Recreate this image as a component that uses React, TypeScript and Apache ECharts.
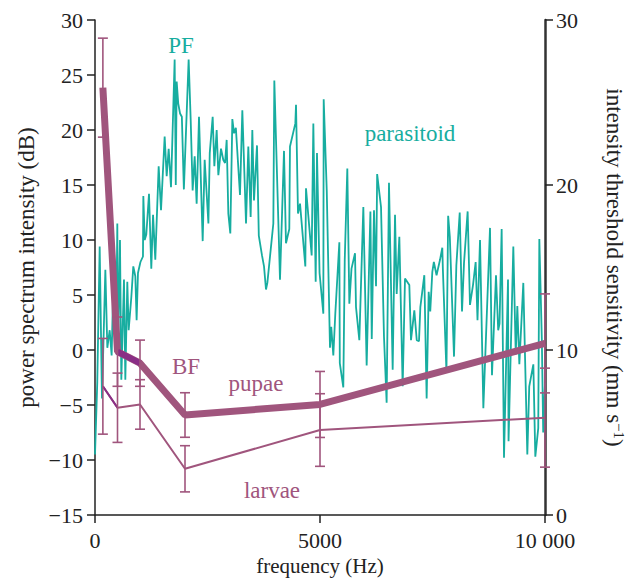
import React, { useEffect, useRef } from "react";
import * as echarts from "echarts";

// parasitoid power spectrum (left axis, dB)
const parasitoidFreq = [
  0, 50, 104, 155, 230, 274, 326, 370, 422, 470, 496, 511, 555, 585, 644, 674, 718, 748, 807, 851,
  896, 925, 955, 1010, 1066, 1074, 1105, 1140, 1200, 1251, 1290, 1340, 1415, 1467, 1548, 1593, 1637, 1689, 1770, 1795,
  1815, 1850, 1890, 1930, 1975, 2081, 2126, 2170, 2215, 2259, 2311, 2393, 2437, 2520, 2550, 2615, 2652, 2704, 2741, 2800,
  2850, 2890, 2926, 2963, 3007, 3052, 3090, 3130, 3222, 3274, 3356, 3407, 3459, 3496, 3533, 3600, 3640, 3711, 3756, 3800,
  3830, 3963, 3985, 4111, 4200, 4244, 4318, 4333, 4452, 4467, 4511, 4556, 4674, 4689, 4815, 4852, 4904, 4933, 4990, 5074,
  5082, 5150, 5222, 5250, 5296, 5340, 5430, 5440, 5518, 5550, 5607, 5652, 5700, 5778, 5800, 5874, 5963, 6037, 6120, 6150,
  6200, 6245, 6270, 6356, 6422, 6481, 6533, 6615, 6667, 6704, 6763, 6837, 6889, 6985, 7022, 7096, 7150, 7200, 7230, 7318,
  7370, 7415, 7450, 7496, 7530, 7590, 7667, 7718, 7730, 7810, 7848, 7885, 7978, 8030, 8105, 8156, 8200, 8281, 8333, 8400,
  8459, 8500, 8556, 8630, 8778, 8822, 8911, 8960, 8990, 9037, 9089, 9178, 9190, 9296, 9350, 9385, 9430, 9518, 9607, 9650,
  9741, 9785, 9850, 9874, 9930, 9960, 10000,
];
const parasitoidDb = [
  -9.5, -3.0, 9.4, -4.4, 7.3, 0.2, 1.8, -0.5, 8.8, 1.0, 11.5, -0.3, 10.0, -2.7, 6.4, -2.7, 6.2, 1.8, 4.8, 7.6,
  6.7, 2.7, 7.0, 8.0, 8.5, 14.0, 10.0, 10.5, 14.2, 7.4, 12.3, 8.2, 16.7, 12.7, 19.4, 15.8, 18.3, 14.8, 26.4, 15.0,
  24.4, 22.4, 21.5, 21.2, 14.6, 26.4, 21.0, 14.5, 17.6, 13.3, 21.2, 9.9, 17.3, 11.5, 17.9, 21.2, 16.7, 20.0, 15.9, 18.3,
  17.3, 17.0, 19.1, 12.4, 10.6, 21.0, 19.7, 20.2, 14.1, 21.8, 11.5, 18.5, 12.1, 20.0, 13.6, 18.6, 10.4, 8.6, 7.6, 5.5,
  6.1, 11.5, 24.5, 6.4, 18.1, 9.7, 11.0, 18.5, 20.6, 22.3, 12.4, 13.3, 7.6, 14.7, 8.6, 20.6, 6.2, 17.9, 7.0, 3.3,
  22.8, 14.5, 0.2, 2.1, -0.5, 3.3, 9.8, -1.2, -3.4, 8.2, 16.5, 4.2, 7.4, 8.8, 3.9, 0.9, 13.0, -1.4, 12.6, 1.0,
  12.7, 5.8, 16.0, 13.0, 1.2, -4.8, 15.2, -1.8, 12.3, 5.1, 10.3, -3.3, 6.5, 5.9, 0.9, 3.6, 0.9, 0.8, 3.9, 6.8,
  -4.4, 5.3, 3.5, 7.1, 8.0, 6.8, 8.2, 9.3, 7.4, -2.0, 12.2, 10.3, -0.6, 7.7, 12.5, 3.5, 7.9, 12.6, 4.1, 5.9,
  8.0, 2.7, 10.0, -5.3, 11.1, -2.3, 6.8, 1.8, 2.4, 11.0, -9.8, 6.4, -8.3, 9.4, -0.4, 4.0, -1.3, 6.1, -9.5, -3.3,
  -1.3, -9.7, -7.1, 10.1, 0.9, -7.5, -3.0,
];

// intensity threshold sensitivity (right axis, mm s^-1)
const stageFreq = [175, 500, 1000, 2000, 5000, 10000];
const pupaeSens = [25.9, 9.9, 9.2, 6.06, 6.7, 10.4];
const pupaeErr = [3.0, 2.1, 1.4, 1.35, 2.0, 3.0];
const larvaeSens = [7.8, 6.5, 6.7, 2.8, 5.15, 5.9];
const larvaeErr = [2.9, 2.1, 1.5, 1.4, 2.2, 3.0];

const leftTicks = { min: -15, max: 30, interval: 5 };
const rightTicks = { min: 0, max: 30, interval: 10 };
const xTicks = { min: 0, max: 10000, interval: 5000 };

const TEAL = "#17ada0";
const MAUVE = "#a0557d";
const DARK = "#8a2e86";
const FONT = "Liberation Serif";

export default function App() {
  const ref = useRef<HTMLDivElement>(null);
  useEffect(() => {
    if (!ref.current) return;
    const chart = echarts.init(ref.current, undefined, { renderer: "svg" });

    const teal = parasitoidFreq.map((f, i) => [f, parasitoidDb[i]]);
    const pupae = stageFreq.map((f, i) => [f, pupaeSens[i]]);
    const larvae = stageFreq.map((f, i) => [f, larvaeSens[i]]);
    const pupaeBars = stageFreq.map((f, i) => [f, pupaeSens[i] - pupaeErr[i], pupaeSens[i] + pupaeErr[i]]);
    const larvaeBars = stageFreq.map((f, i) => [f, larvaeSens[i] - larvaeErr[i], larvaeSens[i] + larvaeErr[i]]);

    const errRender = (params: any, api: any) => {
      const x = api.value(0);
      const lo = api.value(1);
      const hi = api.value(2);
      const p1 = api.coord([x, hi]);
      const p2 = api.coord([x, lo]);
      const w = 5;
      const st = { stroke: MAUVE, lineWidth: 1.6 };
      return {
        type: "group",
        children: [
          { type: "line", shape: { x1: p1[0], y1: p1[1], x2: p2[0], y2: p2[1] }, style: st },
          { type: "line", shape: { x1: p1[0] - w, y1: p1[1], x2: p1[0] + w, y2: p1[1] }, style: st },
          { type: "line", shape: { x1: p2[0] - w, y1: p2[1], x2: p2[0] + w, y2: p2[1] }, style: st },
        ],
      };
    };

    const axisLabel = { color: "#222", fontFamily: FONT, fontSize: 22 };
    const nameStyle = { color: "#222", fontFamily: FONT, fontSize: 23 };
    const labelFont = `23px "${FONT}"`;
    const txt = (text: string, x: number, y: number, fill: string) => ({
      type: "text",
      x,
      y,
      style: { text, fill, font: labelFont, textAlign: "center", textVerticalAlign: "middle", align: "center", verticalAlign: "middle" },
    });

    chart.setOption({
      animation: false,
      grid: { left: 95, right: 87, top: 20, bottom: 63, containLabel: false, outerBoundsMode: "none" },
      xAxis: {
        type: "value",
        ...xTicks,
        name: "frequency (Hz)",
        nameLocation: "middle",
        nameGap: 35,
        nameTextStyle: { ...nameStyle, fontSize: 21 },
        axisLine: { show: true, onZero: false, lineStyle: { color: "#222", width: 1.5 } },
        axisTick: { show: true, inside: false, length: 8, lineStyle: { color: "#222", width: 1.5 } },
        axisLabel: {
          ...axisLabel,
          margin: 14,
          formatter: (v: number) => (v >= 10000 ? "10 000" : String(v)),
        },
        splitLine: { show: false },
      },
      yAxis: [
        {
          type: "value",
          ...leftTicks,
          position: "left",
          name: "power spectrum intensity (dB)",
          nameLocation: "middle",
          nameRotate: 90,
          nameGap: 56,
          nameTextStyle: nameStyle,
          axisLine: { show: true, onZero: false, lineStyle: { color: "#222", width: 1.5 } },
          axisTick: { show: true, inside: false, length: 8, lineStyle: { color: "#222", width: 1.5 } },
          axisLabel: { ...axisLabel, margin: 12, formatter: (v: number) => (v < 0 ? "\u2212" + Math.abs(v) : String(v)) },
          splitLine: { show: false },
        },
        {
          type: "value",
          ...rightTicks,
          position: "right",
          name: "intensity threshold sensitivity (mm s{sup|\u22121})",
          nameLocation: "middle",
          nameRotate: -90,
          nameGap: 57,
          nameTextStyle: {
            ...nameStyle,
            rich: { sup: { fontFamily: FONT, fontSize: 15, color: "#222", verticalAlign: "top", padding: [0, 0, 9, 0] } },
          },
          axisLine: { show: true, onZero: false, lineStyle: { color: "#333", width: 2.5 } },
          axisTick: { show: true, inside: false, length: 8, lineStyle: { color: "#222", width: 1.5 } },
          axisLabel: { ...axisLabel, margin: 11 },
          splitLine: { show: false },
        },
      ],
      series: [
        {
          type: "line",
          name: "parasitoid",
          yAxisIndex: 0,
          data: teal,
          showSymbol: false,
          symbol: "none",
          lineStyle: { color: TEAL, width: 1.8 },
          z: 2,
        },
        {
          type: "line",
          name: "pupae",
          yAxisIndex: 1,
          data: pupae,
          symbol: "none",
          lineStyle: { color: MAUVE, width: 7 },
          z: 3,
        },
        {
          type: "line",
          name: "pupae-overlap",
          yAxisIndex: 1,
          data: pupae.slice(1, 3),
          symbol: "none",
          lineStyle: { color: DARK, width: 6 },
          z: 4,
        },
        {
          type: "line",
          name: "larvae",
          yAxisIndex: 1,
          data: larvae,
          symbol: "none",
          lineStyle: { color: MAUVE, width: 2 },
          z: 3,
        },
        {
          type: "line",
          name: "larvae-overlap",
          yAxisIndex: 1,
          data: larvae.slice(0, 2),
          symbol: "none",
          lineStyle: { color: DARK, width: 2 },
          z: 4,
        },
        {
          type: "custom",
          name: "pupae error",
          yAxisIndex: 1,
          data: pupaeBars,
          encode: { x: 0, y: [1, 2] },
          renderItem: errRender,
          clip: false,
          z: 5,
        },
        {
          type: "custom",
          name: "larvae error",
          yAxisIndex: 1,
          data: larvaeBars,
          encode: { x: 0, y: [1, 2] },
          renderItem: errRender,
          clip: false,
          z: 5,
        },
      ],
      graphic: [
        txt("PF", 181, 45, TEAL),
        txt("parasitoid", 410, 133, TEAL),
        txt("BF", 186, 366, MAUVE),
        txt("pupae", 256, 383, MAUVE),
        txt("larvae", 272, 490, MAUVE),
      ],
    });
    return () => chart.dispose();
  }, []);
  return <div ref={ref} style={{ position: "fixed", left: 0, top: 0, width: 632, height: 578, background: "#fff" }} />;
}
